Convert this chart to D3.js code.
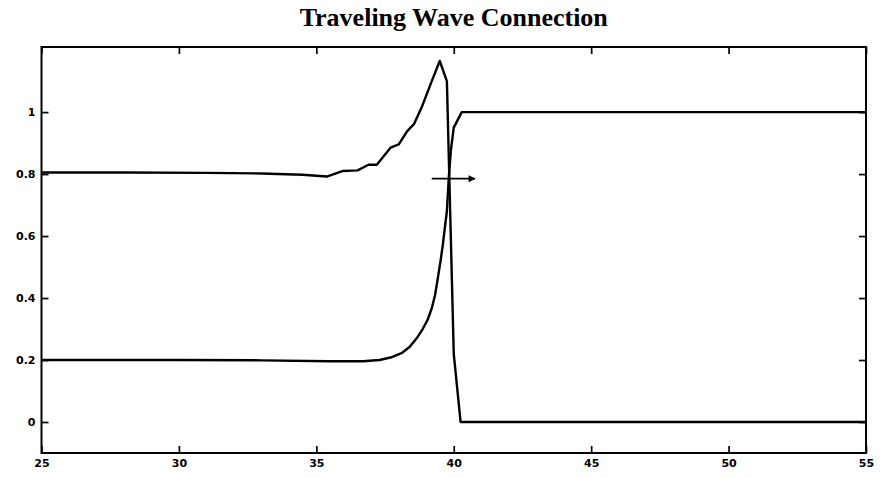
<!DOCTYPE html>
<html>
<head>
<meta charset="utf-8">
<script src="https://cdn.jsdelivr.net/npm/d3@7"></script>
<style>
  html, body { margin: 0; padding: 0; background: #fff; }
  svg { display: block; }
</style>
</head>
<body>
<svg id="chart" width="880" height="478"></svg>
<script>
// Front profile: state variable that overshoots and drops to zero
const upperX = [25, 28, 31, 33, 34.5, 35.38, 35.97, 36.5, 36.9, 37.2, 37.7, 38.0, 38.3, 38.55, 38.85, 39.2, 39.49, 39.75, 40.0, 40.25, 55];
const upperY = [0.805, 0.805, 0.804, 0.802, 0.798, 0.792, 0.81, 0.812, 0.83, 0.83, 0.885, 0.896, 0.938, 0.961, 1.019, 1.10, 1.165, 1.10, 0.22, 0.0, 0.0];

// Front profile: state variable rising monotonically from 0.2 to 1
const lowerX = [25, 30, 33, 35.5, 36.7, 37.3, 37.7, 38.1, 38.4, 38.65, 38.87, 39.05, 39.2, 39.32, 39.42, 39.52, 39.6, 39.68, 39.75, 39.82, 39.9, 40.0, 40.29, 55];
const lowerY = [0.2, 0.2, 0.199, 0.196, 0.196, 0.2, 0.208, 0.222, 0.243, 0.27, 0.30, 0.33, 0.367, 0.41, 0.464, 0.52, 0.57, 0.63, 0.68, 0.79, 0.88, 0.95, 1.0, 1.0];

// Direction of travel
const arrowX = [39.2, 40.77];
const arrowY = [0.785, 0.785];

const xTicks = [25, 30, 35, 40, 45, 50, 55];
const yTicks = [0, 0.2, 0.4, 0.6, 0.8, 1];
const titleText = "Traveling Wave Connection";

const svg = d3.select("#chart");
const plotLeft = 41.5, plotRight = 866, plotTop = 47, plotBottom = 453;

const x = d3.scaleLinear().domain([25, 55]).range([plotLeft, plotRight]);
const y = d3.scaleLinear().domain([-0.1, 1.21]).range([plotBottom, plotTop]);

svg.append("defs").append("marker")
  .attr("id", "head")
  .attr("viewBox", "0 0 10 10")
  .attr("refX", 9).attr("refY", 5)
  .attr("markerWidth", 11).attr("markerHeight", 7)
  .attr("markerUnits", "userSpaceOnUse")
  .attr("orient", "auto")
  .append("path").attr("d", "M0,0 L10,5 L0,10 Z").attr("fill", "#000");

// Title
svg.append("text")
  .attr("x", (plotLeft + plotRight) / 2)
  .attr("y", 26)
  .attr("text-anchor", "middle")
  .style("font-family", "'Liberation Serif', 'DejaVu Serif', serif")
  .style("font-weight", "bold")
  .style("font-size", "26px")
  .text(titleText);

const tickFont = g => g.selectAll("text")
  .style("font-family", "'DejaVu Sans', 'Liberation Sans', sans-serif")
  .style("font-weight", "bold")
  .style("font-size", "11px")
  .attr("fill", "#000");

const styleAxis = g => {
  g.select(".domain").remove();
  g.selectAll(".tick line").attr("stroke", "#000").attr("stroke-width", 1.7);
};

// Bottom axis (ticks pointing inward)
svg.append("g")
  .attr("transform", `translate(0,${plotBottom})`)
  .call(d3.axisBottom(x).tickValues(xTicks).tickFormat(d3.format("d")).tickSizeInner(-7).tickSizeOuter(0).tickPadding(6))
  .call(styleAxis).call(tickFont);

// Top axis, ticks only
svg.append("g")
  .attr("transform", `translate(0,${plotTop})`)
  .call(d3.axisTop(x).tickValues(xTicks).tickFormat("").tickSizeInner(-7).tickSizeOuter(0))
  .call(styleAxis);

// Left axis
svg.append("g")
  .attr("transform", `translate(${plotLeft},0)`)
  .call(d3.axisLeft(y).tickValues(yTicks).tickFormat(d => d === 0 || d === 1 ? d3.format("d")(d) : d3.format(".1f")(d)).tickSizeInner(-7).tickSizeOuter(0).tickPadding(6))
  .call(styleAxis).call(tickFont);

// Right axis, ticks only
svg.append("g")
  .attr("transform", `translate(${plotRight},0)`)
  .call(d3.axisRight(y).tickValues(yTicks).tickFormat("").tickSizeInner(-7).tickSizeOuter(0))
  .call(styleAxis);

// Frame
svg.append("rect")
  .attr("x", plotLeft).attr("y", plotTop)
  .attr("width", plotRight - plotLeft).attr("height", plotBottom - plotTop)
  .attr("fill", "none").attr("stroke", "#000").attr("stroke-width", 2);

const line = d3.line().x(d => x(d[0])).y(d => y(d[1]));

svg.append("path")
  .datum(d3.zip(upperX, upperY))
  .attr("d", line)
  .attr("fill", "none").attr("stroke", "#000").attr("stroke-width", 2.4)
  .attr("stroke-linejoin", "round");

svg.append("path")
  .datum(d3.zip(lowerX, lowerY))
  .attr("d", line)
  .attr("fill", "none").attr("stroke", "#000").attr("stroke-width", 2.4)
  .attr("stroke-linejoin", "round");

svg.append("path")
  .datum(d3.zip(arrowX, arrowY))
  .attr("d", line)
  .attr("fill", "none").attr("stroke", "#000").attr("stroke-width", 1.8)
  .attr("marker-end", "url(#head)");
</script>
</body>
</html>
